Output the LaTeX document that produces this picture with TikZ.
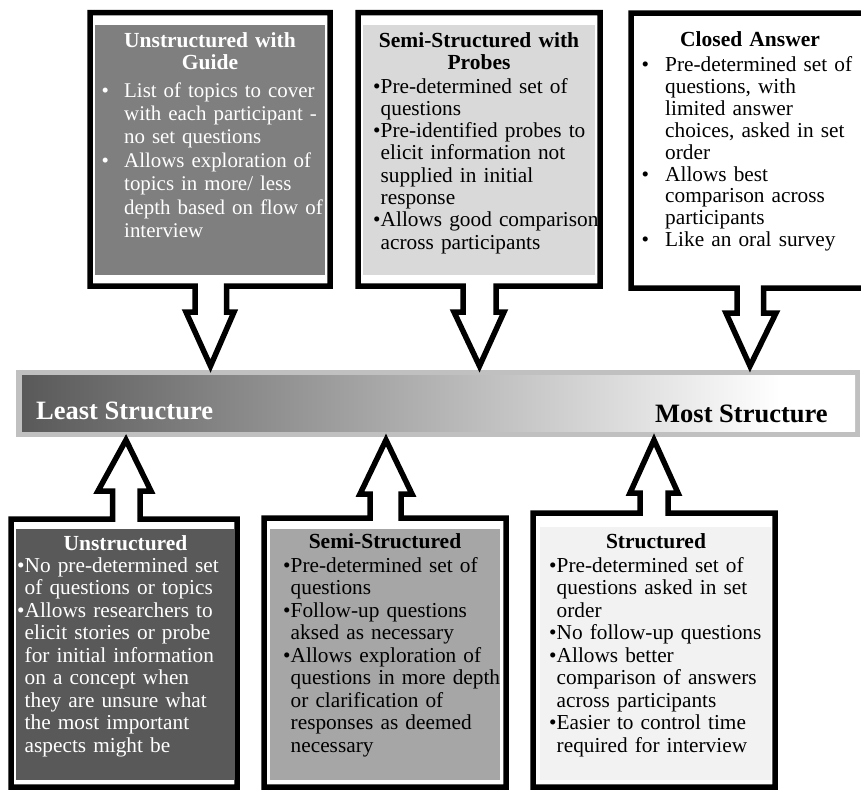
\documentclass[tikz,border=0pt]{standalone}
\usepackage{fontspec}
\setmainfont{Liberation Serif}
\definecolor{cdark}{HTML}{595959}
\definecolor{cmid}{HTML}{7F7F7F}
\definecolor{clight}{HTML}{D9D9D9}
\definecolor{cgray}{HTML}{A6A6A6}
\definecolor{cpale}{HTML}{F2F2F2}
\definecolor{cbarb}{HTML}{C0C0C0}
\pgfdeclarehorizontalshading{barshade}{100bp}{color(0bp)=(cdark); color(25bp)=(cdark); color(70.5bp)=(white); color(100bp)=(white)}
\newcommand{\bpt}[2]{\hangindent=#1pt\hangafter=1\noindent\hbox to #1pt{\textbullet\hfil}#2\par}
\tikzset{
  callout/.style={draw=black, line width=5.5pt, fill=white, line join=miter},
  ttl/.style={inner sep=0pt, anchor=base, text width=230pt, align=center, font=\bfseries\fontsize{21.5}{22}\selectfont},
  body/.style={inner sep=0pt, anchor=base west, text width=270pt, align=left, font=\fontsize{21.3}{#1}\selectfont},
  bartxt/.style={inner sep=0pt, anchor=base west, font=\bfseries\fontsize{26.5}{30}\selectfont}
}
\begin{document}
\begin{tikzpicture}[x=1pt,y=-1pt]
\useasboundingbox (0,0) rectangle (861,790);
\begin{scope}
\clip (0,0) rectangle (861,790);
% bar
\fill[cbarb] (16,370) rectangle (860,437);
\shade[shading=barshade] (22,375) rectangle (855,431);
\node[bartxt, text=white] (least) at (36,419) {Least Structure};
\node[bartxt, text=black] (most) at (655,422) {Most Structure};
% top callouts
\draw[callout] (90,12.5) -- (330,12.5) -- (330,286) -- (226.5,286) -- (226.5,312) -- (234,312) -- (210.5,366) -- (186,312) -- (195,312) -- (195,286) -- (90,286) -- cycle;
\fill[cmid] (95,25) rectangle (325,275);
\draw[callout] (358,12.5) -- (600,12.5) -- (600,286) -- (496,286) -- (496,312) -- (504,312) -- (479.5,366) -- (454,312) -- (463,312) -- (463,286) -- (358,286) -- cycle;
\fill[clight] (363,25) rectangle (595,275);
\draw[callout] (631,13) -- (868,13) -- (868,288) -- (763.5,288) -- (763.5,313) -- (776,313) -- (750,366) -- (726,313) -- (737,313) -- (737,288) -- (631,288) -- cycle;
% bottom callouts
\draw[callout] (11,787) -- (11,519) -- (112.5,519) -- (112.5,491) -- (98,491) -- (126,440) -- (151,491) -- (140,491) -- (140,519) -- (237,519) -- (237,787) -- cycle;
\fill[cdark] (16,529) rectangle (235,780);
\draw[callout] (264,787) -- (264,518) -- (370,518) -- (370,494) -- (360,494) -- (386,440) -- (412,494) -- (401,494) -- (401,518) -- (506,518) -- (506,787) -- cycle;
\fill[cgray] (270,529) rectangle (500,780);
\draw[callout] (533,787) -- (533,513) -- (640,513) -- (640,493) -- (630,493) -- (654,440) -- (678,493) -- (668,493) -- (668,513) -- (775,513) -- (775,787) -- cycle;
\fill[cpale] (540,527) rectangle (771,780);
\end{scope}
% top texts
\node[ttl, text=white] (t1title) at (210,47) {Unstructured with\\Guide};
\node[body=23.4, text=white, font=\fontsize{20.9}{23.4}\selectfont] (t1body) at (101.3,97) {\bpt{22.7}{List of topics to cover\newline with each participant -\newline no set questions}\bpt{22.7}{Allows exploration of\newline topics in more/ less\newline depth based on flow of\newline interview}};
\node[ttl] (t2title) at (479,47) {Semi-Structured with\\Probes};
\node[body=22.3] (t2body) at (373,93) {\bpt{7.5}{Pre-determined set of\newline questions}\bpt{7.5}{Pre-identified probes to\newline elicit information not\newline supplied in initial\newline response}\bpt{7.5}{Allows good comparison\newline across participants}};
\node[ttl] (t3title) at (750,46) {Closed Answer};
\node[body=21.9] (t3body) at (641.5,71.5) {\bpt{23.5}{Pre-determined set of\newline questions, with\newline limited answer\newline choices, asked in set\newline order}\bpt{23.5}{Allows best\newline comparison across\newline participants}\bpt{23.5}{Like an oral survey}};
% bottom texts
\node[ttl, text=white] (b1title) at (125.5,550) {Unstructured};
\node[body=22.5, text=white] (b1body) at (17,572) {\bpt{7.5}{No pre-determined set\newline of questions or topics}\bpt{7.5}{Allows researchers to\newline elicit stories or probe\newline for initial information\newline on a concept when\newline they are unsure what\newline the most important\newline aspects might be}};
\node[ttl] (b2title) at (385,548) {Semi-Structured};
\node[body=22.5] (b2body) at (283,572) {\bpt{7.5}{Pre-determined set of\newline questions}\bpt{7.5}{Follow-up questions\newline aksed as necessary}\bpt{7.5}{Allows exploration of\newline questions in more depth\newline or clarification of\newline responses as deemed\newline necessary}};
\node[ttl] (b3title) at (656,548) {Structured};
\node[body=22.5] (b3body) at (549,572) {\bpt{7.5}{Pre-determined set of\newline questions asked in set\newline order}\bpt{7.5}{No follow-up questions}\bpt{7.5}{Allows better\newline comparison of answers\newline across participants}\bpt{7.5}{Easier to control time\newline required for interview}};
\end{tikzpicture}
\end{document}
